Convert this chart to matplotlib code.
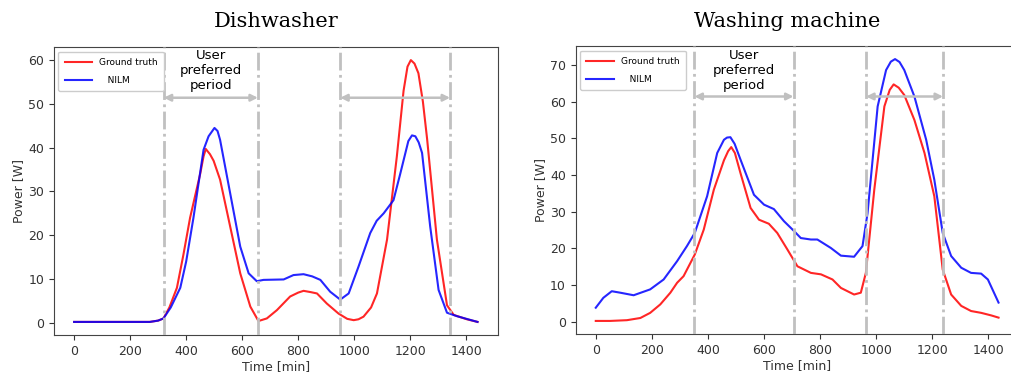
import numpy as np
import matplotlib
matplotlib.use('Agg')
import matplotlib.pyplot as plt

# --- datos ---
# Lavavajillas (Dishwasher)
dw_t_gt = [0, 100, 200, 270, 300, 319, 340, 367, 390, 414, 450, 462, 470, 485, 498, 521, 557, 593,
           629, 658, 688, 724, 771, 800, 819, 845, 867, 902, 944, 975, 998, 1015, 1033, 1060,
           1081, 1117, 1152, 1176, 1190, 1202, 1215, 1229, 1245, 1260, 1295, 1331, 1355, 1402, 1440]
dw_gt = [0.2, 0.2, 0.2, 0.2, 0.5, 1.0, 3.5, 8.0, 15.5, 24.0, 34.0, 38.0, 39.7, 38.5, 37.0, 32.7, 22.0, 11.3,
         3.7, 0.4, 1.0, 2.9, 6.0, 6.9, 7.3, 7.0, 6.7, 4.4, 2.1, 0.9, 0.6, 0.8, 1.4, 3.5,
         6.7, 19.0, 38.0, 53.0, 58.5, 60.0, 59.2, 57.0, 50.5, 42.0, 19.0, 4.0, 1.8, 0.8, 0.2]
dw_t_nilm = [0, 100, 200, 270, 300, 319, 345, 379, 400, 426, 462, 480, 501, 512, 521, 557, 593,
             623, 652, 676, 748, 783, 819, 850, 879, 914, 950, 980, 1015, 1057, 1080, 1105,
             1140, 1164, 1193, 1206, 1218, 1230, 1242, 1271, 1301, 1331, 1367, 1440]
dw_nilm = [0.2, 0.2, 0.2, 0.2, 0.5, 1.0, 3.5, 8.0, 14.0, 24.0, 39.5, 42.6, 44.5, 43.8, 41.8, 29.6, 17.4,
           11.3, 9.5, 9.8, 9.9, 10.9, 11.1, 10.6, 9.8, 7.1, 5.3, 6.7, 12.8, 20.5, 23.3, 25.0,
           28.0, 34.0, 41.5, 42.8, 42.6, 41.2, 38.8, 22.0, 7.5, 2.3, 1.5, 0.2]
dw_periods = [(320, 656), (950, 1342)]

# Lavadora (Washing machine)
wm_t_gt = [0, 51, 111, 159, 194, 230, 266, 290, 313, 353, 385, 421, 457, 472, 483, 496, 516, 552, 582,
           617, 647, 683, 719, 767, 803, 844, 874, 921, 945, 963, 993, 1029, 1048, 1062, 1080, 1100,
           1136, 1172, 1207, 1237, 1267, 1303, 1338, 1374, 1410, 1436]
wm_gt = [0.2, 0.2, 0.4, 1.0, 2.4, 4.7, 7.9, 10.6, 12.4, 18.3, 25.1, 36.0, 44.0, 46.5, 47.6, 46.0, 40.5, 31.0, 27.8,
         26.7, 24.2, 19.7, 15.1, 13.3, 12.9, 11.5, 9.2, 7.4, 7.9, 13.3, 36.0, 58.7, 63.2, 64.7, 63.8, 61.8,
         55.0, 46.0, 34.2, 14.2, 7.4, 4.3, 2.9, 2.4, 1.7, 1.1]
wm_t_nilm = [0, 27, 57, 87, 135, 194, 242, 290, 325, 353, 397, 433, 457, 468, 480, 495, 516, 564, 600,
             635, 671, 707, 731, 767, 790, 838, 874, 921, 951, 969, 1005, 1035, 1052, 1067, 1083, 1100,
             1136, 1178, 1207, 1237, 1267, 1303, 1338, 1374, 1398, 1436]
wm_nilm = [3.8, 6.5, 8.3, 7.9, 7.2, 8.8, 11.5, 16.5, 20.6, 24.2, 34.2, 46.0, 49.6, 50.2, 50.3, 48.5, 44.2, 34.6, 31.9,
           30.7, 27.4, 24.7, 22.8, 22.4, 22.4, 20.1, 18.0, 17.7, 20.6, 29.6, 58.7, 68.6, 70.9, 71.6, 70.8, 68.6,
           61.4, 49.6, 38.7, 24.2, 17.9, 14.7, 13.3, 13.1, 11.5, 5.2]
wm_periods = [(352, 705), (964, 1238)]

paneles = [
    ('Dishwasher', dw_t_gt, dw_gt, dw_t_nilm, dw_nilm, dw_periods, 51.4, 57.6,
     [0.0533, 0.1253, 0.4385, 0.7520], 0.273),
    ('Washing machine', wm_t_gt, wm_gt, wm_t_nilm, wm_nilm, wm_periods, 61.4, 68.4,
     [0.5688, 0.1279, 0.4378, 0.7520], 0.778),
]

fig = plt.figure(figsize=(10.12, 3.83), dpi=100)

for titulo, tg, gt, tn, nilm, periodos, y_flecha, y_texto, pos, x_titulo in paneles:
    ax = fig.add_axes(pos)
    ax.plot(tg, gt, c='red', alpha=0.85, lw=1.5, label='Ground truth')
    ax.plot(tn, nilm, c='blue', alpha=0.85, lw=1.5, label='   NILM')

    # periodos preferidos por el usuario
    for (a, b) in periodos:
        for xv in (a, b):
            ax.axvline(xv, color='#c0c0c0', lw=2, ls='-.', zorder=3)
        ax.annotate('', xy=(a, y_flecha), xytext=(b, y_flecha),
                    arrowprops=dict(arrowstyle='<|-|>', color='#c0c0c0', lw=1.8,
                                    mutation_scale=10, shrinkA=0, shrinkB=0))
    a, b = periodos[0]
    ax.text((a + b) / 2, y_texto, 'User\npreferred\nperiod', ha='center', va='center',
            fontsize=9.5, linespacing=1.2)

    ax.set_xticks(range(0, 1401, 200))
    ax.tick_params(labelsize=9, colors='#333333')
    ax.set_xlabel('Time [min]', fontsize=9, color='#333333', labelpad=2)
    ax.set_ylabel('Power [W]', fontsize=9, color='#333333', labelpad=2)
    for s in ax.spines.values():
        s.set_color('#444444')
    ax.legend(loc='upper left', fontsize=6.5, handlelength=3, labelspacing=1.0,
              borderpad=0.7, framealpha=1)
    fig.text(x_titulo, 0.943, titulo, ha='center', va='center', fontsize=15,
             family='DejaVu Serif')

fig.savefig('out.png', dpi=100)
